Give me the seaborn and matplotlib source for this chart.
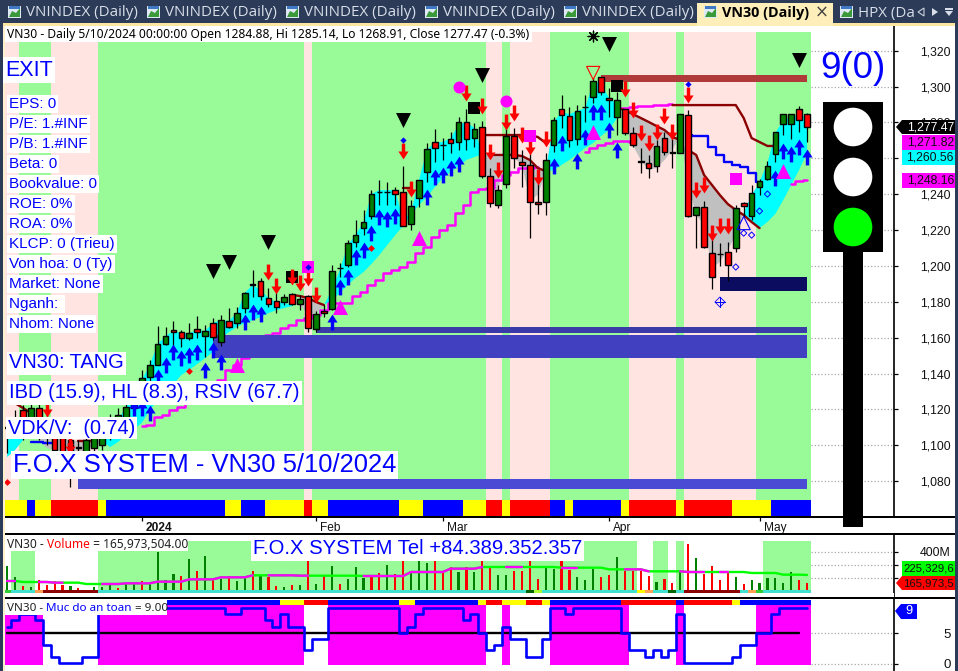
import numpy as np
import pandas as pd
import matplotlib
matplotlib.use("Agg")
import matplotlib.pyplot as plt
from matplotlib.path import Path
from matplotlib.patches import Rectangle, Polygon, Circle
import seaborn as sns

sns.set_style("white")
plt.rcParams["font.family"] = ["Liberation Sans", "DejaVu Sans"]

# candles, one value per session
opens = [1109.6,1109.6,1119.6,1111.3,1120.8,1114.1,1108.5,1105.7,1102.9,1098.5,1096.2,1098.5,1100.1,1105.7,1109.6,1114.1,1120.8,1126.3,1138.0,1144.7,
         1156.4,1164.3,1163.1,1159.8,1164.8,1160.9,1168.2,1157.6,1169.3,1168.2,1176.5,1189.4,1191.6,1182.1,1180.4,1179.9,1184.3,1178.8,1183.2,1164.8,
         1174.9,1176.0,1198.8,1200.5,1213.3,1221.1,1227.8,1241.2,1241.2,1242.3,1241.2,1223.4,1237.9,1252.4,1269.1,1267.4,1270.8,1269.1,1280.3,1271.3,
         1277.5,1250.1,1234.0,1245.7,1272.5,1258.0,1256.3,1235.6,1235.6,1267.4,1287.5,1283.6,1270.8,1288.6,1294.2,1305.4,1293.6,1283.0,1287.5,1274.1,
         1258.0,1257.4,1255.7,1271.3,1263.0,1263.0,1284.2,1228.4,1232.9,1207.2,1206.6,1207.8,1210.0,1235.1,1227.8,1244.0,1248.5,1262.4,1279.1,1279.1,
         1287.5,1284.88]
highs = [1114.1,1119.6,1122.4,1123.0,1124.1,1118.5,1113.0,1109.6,1108.5,1102.9,1107.4,1109.6,1111.8,1117.4,1120.8,1125.2,1130.8,1142.0,1147.5,1166.5,
         1165.9,1169.3,1164.3,1168.2,1172.1,1167.1,1171.0,1172.6,1176.5,1177.1,1185.4,1197.7,1193.3,1187.7,1184.9,1184.3,1184.9,1183.8,1183.8,1174.9,
         1178.2,1200.5,1201.6,1214.5,1225.6,1231.2,1242.3,1247.9,1246.8,1244.0,1255.7,1236.8,1247.9,1268.6,1276.4,1271.3,1274.7,1283.0,1287.5,1279.7,
         1280.8,1254.6,1245.1,1276.9,1276.9,1264.6,1268.6,1253.5,1263.0,1283.0,1295.3,1288.6,1289.7,1295.3,1304.8,1305.4,1299.2,1297.0,1287.5,1277.5,
         1265.8,1261.9,1270.2,1274.7,1271.3,1284.7,1286.9,1232.9,1236.2,1221.7,1212.8,1213.3,1234.0,1235.6,1245.1,1248.5,1258.5,1274.7,1284.7,1284.7,
         1289.2,1285.14]
lows = [1095.7,1105.7,1102.9,1107.4,1102.9,1100.1,1092.9,1086.2,1076.7,1091.8,1092.9,1094.6,1097.3,1102.9,1107.4,1111.3,1118.5,1124.1,1135.3,1144.7,
        1155.9,1154.8,1154.8,1158.7,1159.8,1149.2,1158.7,1155.3,1165.4,1165.4,1173.7,1182.7,1181.0,1177.1,1173.7,1178.2,1178.2,1175.4,1163.1,1163.1,
        1171.5,1175.4,1193.8,1199.4,1210.5,1217.2,1226.2,1234.0,1234.0,1234.0,1222.3,1220.0,1232.9,1246.8,1258.0,1259.1,1263.0,1264.6,1264.6,1266.3,
        1249.0,1232.9,1232.3,1243.4,1254.6,1244.0,1215.6,1229.0,1228.4,1263.5,1276.9,1266.3,1267.4,1280.3,1290.9,1295.3,1283.0,1273.0,1273.0,1266.3,
        1251.8,1249.0,1252.4,1261.9,1254.6,1263.0,1227.3,1210.0,1210.0,1187.1,1199.9,1191.6,1207.8,1227.3,1225.6,1239.5,1247.9,1258.0,1273.0,1270.8,
        1274.7,1268.91]
closes = [1110.2,1115.2,1108.5,1120.8,1108.5,1104.6,1097.3,1092.9,1091.8,1098.8,1102.9,1105.1,1108.5,1114.1,1116.8,1121.3,1126.9,1137.5,1144.7,1156.4,
          1160.9,1163.1,1159.8,1162.6,1163.1,1163.7,1160.4,1169.8,1165.9,1173.7,1184.9,1189.7,1183.2,1178.8,1177.1,1182.7,1178.8,1181.5,1165.4,1173.2,
          1173.7,1197.2,1199.1,1212.8,1217.2,1224.5,1240.1,1241.5,1241.5,1240.1,1222.3,1233.4,1247.9,1265.2,1265.8,1267.7,1268.6,1280.3,1270.8,1276.4,
          1250.1,1235.1,1242.3,1272.5,1260.2,1256.3,1235.6,1234.5,1259.1,1281.4,1284.2,1270.2,1286.4,1288.9,1303.1,1297.0,1292.5,1292.5,1274.1,1267.4,
          1258.3,1254.6,1266.9,1263.5,1263.3,1284.7,1227.8,1232.9,1210.5,1193.8,1206.9,1200.5,1232.3,1233.4,1240.7,1247.4,1255.7,1274.7,1284.7,1284.7,
          1281.4,1277.47]

# two envelope lines, cyan where fast is over slow, grey where under
env_fast = [1108.5,1114.1,1116.8,1107.4,1102.9,1098.5,1097.3,1096.2,1095.7,1096.2,1097.3,1100.1,1101.8,1108.5,1114.1,1121.3,1126.3,1136.4,1144.7,1156.4,
            1160.9,1163.7,1162.6,1162.6,1164.3,1163.7,1168.2,1169.8,1169.3,1173.7,1184.9,1189.4,1186.6,1182.1,1179.9,1179.3,1178.2,1178.2,1172.6,1173.7,
            1178.2,1186.6,1197.7,1211.7,1217.2,1224.5,1240.1,1242.3,1242.3,1242.3,1225.6,1230.1,1247.9,1264.6,1269.1,1269.1,1271.3,1278.6,1280.3,1276.9,
            1261.9,1239.5,1242.3,1262.4,1260.2,1256.3,1236.8,1239.5,1252.4,1280.3,1285.8,1284.7,1286.4,1288.1,1302.6,1301.5,1293.6,1290.3,1278.6,1267.4,
            1259.1,1253.5,1254.6,1259.1,1264.6,1273.0,1245.1,1228.4,1222.8,1198.8,1202.2,1208.9,1217.2,1229.5,1239.5,1246.8,1257.4,1274.1,1281.4,1283.0,
            1284.2,1283.0]
env_slow = [1093.4,1097.3,1102.9,1111.3,1109.6,1107.4,1105.1,1104.0,1102.9,1102.3,1102.3,1102.3,1102.3,1099.0,1101.8,1105.7,1109.0,1112.4,1119.6,1125.2,
            1129.7,1134.1,1139.2,1142.0,1145.3,1148.6,1152.0,1159.8,1163.1,1165.9,1168.2,1169.8,1171.5,1173.7,1175.4,1176.5,1177.6,1182.7,1182.1,1179.9,
            1178.2,1181.0,1184.9,1189.4,1193.3,1196.6,1201.1,1206.1,1211.7,1217.2,1222.3,1228.4,1234.0,1238.4,1244.0,1249.0,1252.4,1255.7,1259.1,1260.7,
            1262.4,1261.9,1261.9,1261.9,1261.9,1261.3,1259.1,1254.6,1252.9,1253.5,1256.3,1259.1,1262.4,1265.8,1268.6,1272.5,1275.8,1282.5,1286.9,1284.7,
            1282.5,1280.3,1278.0,1275.8,1271.9,1268.5,1264.6,1261.9,1250.7,1245.1,1239.5,1234.5,1231.2,1228.4,1224.5,1221.1,1224.5,1229.0,1236.8,1245.1,
            1253.5,1263.0]

# line pieces: first bar, then one price per bar
pink_lines = [
    (17, [1110.7,1111.3,1115.7,1116.8,1119.6,1121.3,1123.5,1126.3,1129.7,1133.0,1136.4,1142.0,1144.7,1148.6,1153.1,1158.7,1161.5,1162.6,1165.4,1167.1,
          1169.8,1171.0,1172.6,1175.4,1179.3,1179.3,1179.3,1183.2,1185.4,1189.4,1192.1,1196.1,1197.7,1199.4,1202.2,1207.2,1210.5,1216.1,1220.0,1222.8,
          1229.5,1234.0,1241.2,1242.9,1243.4,1247.9,1250.7,1252.4,1254.6,1254.6,1255.2]),
    (73, [1263.5,1265.8,1267.4,1268.6,1269.7,1269.7,1269.1]),
    (77, [1288.1,1288.1,1288.6,1289.2,1289.2,1289.7,1289.7,1290.3]),
    (99, [1245.7,1247.4,1247.9]),
]
maroon_lines = [
    (1, [1123.5,1120.8,1118.0]),
    (9, [1102.3,1102.3,1102.3]),
    (36, [1183.8,1183.2,1182.1,1179.9,1178.2]),
    (50, [1243.4,1243.4]),
    (60, [1273.0,1273.0,1273.0,1273.0,1273.0,1273.0,1273.0,1271.9,1268.6]),
    (61, [1261.9,1261.9,1261.9,1261.9,1261.3,1259.1,1254.6,1252.9]),
    (77, [1288.1,1286.9,1284.7,1282.5,1280.3,1278.0,1275.8,1271.9,1270.2]),
    (84, [1289.7,1289.7,1289.7,1289.7,1289.7,1289.7,1289.7,1289.7,1289.7,1282.5,1271.3,1269.1,1266.9,1266.9]),
    (86, [1264.6,1261.9,1250.7,1245.1,1239.5,1234.5,1231.2,1228.4,1224.5,1221.1]),
]
blue_lines = [
    (3, [1101.8,1101.8,1101.2,1101.2]),
    (86, [1273.0,1272.4,1272.4,1266.3,1261.9,1258.0,1256.3,1255.2,1251.8,1246.8]),
]

# background bands and colour stripe, as run lengths of sessions
band_names = ["pink","green","pink","green","pink","green","pink","green","pink","green","pink","green","pink","green"]
band_runs = [2,4,6,26,1,22,2,1,5,10,6,1,9,7]
stripe_names = ["y","b","y","r","y","b","y","b","y","r","y","b","y","b","y","r","y","r","b","y","b","y","r","y","r","y","b"]
stripe_runs = [3,1,2,6,1,15,2,3,5,1,2,9,3,5,3,2,1,5,2,1,6,1,6,1,6,5,5]
top_names = ["b","y","r","b","y","b","y","r","y","r","y","b","r","b","r","y","b"]
top_runs = [35,3,3,9,2,8,1,2,3,2,1,9,7,1,6,1,9]

# horizontal zones: first bar, last bar, low, high
zone_start = [75, 90, 39, 26, 9]
zone_end = [101, 101, 101, 101, 101]
zone_low = [1302.6, 1186.0, 1162.6, 1148.6, 1075.6]
zone_high = [1306.5, 1193.8, 1165.9, 1161.5, 1081.2]
zone_colors = ["#b03a3a", "#0b0b60", "#3a3aa8", "#4040c0", "#4a4ad4"]

# signals
up_bars = [16,17,18,19,20,21,22,23,24,25,26,27,30,31,32,41,42,43,44,45,46,47,48,49,53,54,55,56,57,69,70,72,73,74,75,76,77,97,98,99,100,101]
up_prices = [1120.8,1120.8,1118.0,1138.0,1144.7,1152.0,1148.6,1150.3,1152.0,1142.0,1153.1,1146.4,1168.7,1174.3,1173.2,1168.7,1188.2,1193.8,1205.0,1208.9,1218.4,
             1227.3,1226.2,1227.8,1238.4,1249.6,1250.7,1254.6,1256.8,1255.7,1268.6,1258.5,1271.9,1285.8,1285.8,1275.8,1264.6,1249.0,1264.1,1262.4,1266.3,1260.7]
down_bars = [5,8,33,34,36,37,38,39,50,51,58,60,61,62,63,64,65,66,67,68,78,79,80,81,82,83,84,86,87,88,89,90,91]
down_prices = [1120.2,1099.6,1196.6,1188.8,1193.8,1190.5,1193.3,1183.8,1264.1,1242.9,1296.4,1289.2,1263.5,1253.5,1280.3,1285.3,1273.0,1266.3,1249.6,1270.8,
               1298.7,1286.9,1274.1,1268.6,1274.7,1283.6,1274.7,1295.3,1242.3,1245.1,1218.3,1222.2,1222.2]
black_tri_bars = [26,28,33,50,60,76,100]
black_tri_prices = [1197.2,1202.2,1213.3,1281.4,1306.5,1323.8,1314.8]
black_sq_bars = [36,59,77]
black_sq_prices = [1193.8,1288.1,1300.3]
mag_sq_bars = [38,66,92]
mag_sq_prices = [1199.4,1272.5,1248.5]
mag_dot_bars = [57,63]
mag_dot_prices = [1299.8,1292.0]
mag_tri_bars = [29,42,52,74,98]
mag_tri_prices = [1144.7,1177.1,1215.6,1274.7,1252.9]
blue_dia_bars = [38,50,86]
blue_dia_prices = [1199.4,1270.2,1301.4]
red_dia_bars = [0,8,23,46]
red_dia_prices = [1079.5,1100.7,1141.4,1210.0]
open_dia_bars = [92,93,94,95,96]
open_dia_prices = [1199.4,1218.3,1217.2,1230.6,1240.1]

# volume panel (millions)
volumes = [292.5,212.5,142.5,132.5,187.5,150,180,150,142.5,125,112.5,132.5,132.5,150,125,157.5,172.5,180,172.5,400,
           187.5,232.5,217.5,342.5,255,367.5,195,195,217.5,180,217.5,255,217.5,210,142.5,135,150,150,345,157.5,
           217.5,292.5,157.5,195,285,202.5,217.5,240,300,232.5,345,247.5,330,312.5,337.5,257.5,282.5,247.5,282.5,247.5,
           345,282.5,225,225,255,255,345,195,292.5,270,345,262.5,210,187.5,270,210,225,360,255,255,
           255,217.5,172.5,195,165,247.5,457.5,352.5,232.5,292.5,187.5,247.5,210,157.5,187.5,165,202.5,202.5,165,247.5,
           187.5,166]
vol_up = [1,1,0,1,0,0,0,0,1,0,1,1,1,1,0,1,1,0,1,1,
          1,1,0,1,0,1,0,1,0,1,1,0,1,0,0,1,0,1,0,1,
          0,1,0,1,1,1,0,0,1,0,0,1,1,1,0,0,0,1,0,1,
          0,0,1,1,0,0,0,0,1,1,0,0,1,1,1,0,0,1,0,0,
          0,0,1,0,0,1,0,1,0,0,0,0,1,0,1,1,1,1,1,1,
          0,0]
vol_ma = [180,180,172.5,172.5,172.5,172.5,167.5,167.5,167.5,167.5,157.5,157.5,157.5,157.5,157.5,162.5,162.5,162.5,162.5,175,
          175,175,175,192.5,192.5,192.5,192.5,207.5,207.5,207.5,207.5,222.5,222.5,222.5,222.5,222.5,222.5,220,220,220,
          220,220,220,220,220,217.5,217.5,217.5,217.5,217.5,217.5,247.5,247.5,247.5,247.5,247.5,272.5,272.5,272.5,272.5,
          285,285,285,285,285,285,285,285,285,285,280,280,280,280,280,280,267.5,267.5,267.5,267.5,
          267.5,252.5,252.5,252.5,252.5,252.5,247.5,247.5,247.5,247.5,247.5,247.5,247.5,247.5,240,240,240,240,227.5,227.5,
          227.5,225.3]
vol_ma_pink = [(0,1),(4,7),(12,31),(33,38),(45,60),(63,65),(70,72),(78,81),(85,88),(90,91)]
vol_band_names = ["w","green","w","green","w","green","w","green","w","green"]
vol_band_runs = [1,3,8,68,2,2,1,1,10,6]
vol_strip_names = ["lime","turq","orange","dark","turq","dgreen","gy","turq","y","orange","turq","dgreen","turq","dark","turq","orange","lime","turq"]
vol_strip_runs = [1,3,1,7,54,1,1,12,1,1,2,1,1,7,1,1,1,6]

# safety level panel
safety = [6,7.1,8,8,7.1,3.1,1.1,0.1,0.1,0.1,1.1,1.1,9,9,9,9,9,9,9,9,9,9,9,9,9,9,9,9,8.1,8.1,9,9,9,7.1,6,8.1,6,6,2.2,4.1,4.1,
          9,9,9,9,9,9,9,9,9,5,6,8.1,9,9,9,9,9,7.1,8.1,5,2.2,3.1,6,4.1,4.1,1.1,1.1,4.1,9,9,8.1,9,9,9,9,9,9,5,2.2,2.2,1.1,2.2,1.1,2.2,8.1,
          0.1,0.1,0.1,0.1,0.1,0.1,1.1,3.1,3.1,5,5,8.1,9,9,9,9]

price_ticks = list(range(1080, 1321, 20))
month_bars = [17, 39, 55, 76, 95]
month_labels = ["2024", "Feb", "Mar", "Apr", "May"]
tab_left = [26, 165, 304, 443, 582]

bars = np.arange(len(closes))
W, H = 958, 671
X_LIM = (-0.268, 111.98)
palette = {"pink": "#ffe4e1", "green": "#98fb98", "w": "white", "y": "#ffff00", "b": "#0000ff", "r": "#ff0000",
           "lime": "#32cd32", "turq": "#40e0d0", "orange": "#ffa054", "dark": "#8b0000", "dgreen": "#006400", "gy": "#adff2f"}


def expand(names, runs):
    return [palette[n] for n in np.repeat(names, runs)]


def panel(left, top, right, bottom):
    return fig.add_axes([left / W, 1 - bottom / H, (right - left) / W, (bottom - top) / H])


def arrow_marker(sign):
    pts = [(0, 7), (4.5, 0), (1.5, 0), (1.5, -7), (-1.5, -7), (-1.5, 0), (-4.5, 0), (0, 7)]
    return Path([(x, sign * y) for x, y in pts], closed=True)


def marks(ax, xs, ys, marker, size, color, **kw):
    sns.scatterplot(x=xs, y=ys, marker=marker, s=size, color=color, ax=ax, legend=False, **kw)


def dotted_ticks(ax, ticks):
    ax.hlines(ticks, 101.5, X_LIM[1], colors="#a8a8a8", linestyles=":", linewidth=0.9, zorder=1)


fig = plt.figure(figsize=(W / 100, H / 100), dpi=100, facecolor="white")

# price panel
ax = panel(5, 26, 894, 517)
ax.bar(bars, 1330.5 - 1069.4, bottom=1069.4, width=1, color=expand(band_names, band_runs), linewidth=0, zorder=1)
ax.bar(bars, 1069.4 - 1060.5, bottom=1060.5, width=1, color=expand(stripe_names, stripe_runs), linewidth=0, zorder=2)
fast = np.array(env_fast)
slow = np.array(env_slow)
ax.fill_between(bars, fast, slow, where=fast >= slow, interpolate=True, color="#00ffff", linewidth=0, zorder=2)
ax.fill_between(bars, fast, slow, where=fast <= slow, interpolate=True, color="#c0c0c0", linewidth=0, zorder=2)
for start, values in pink_lines:
    sns.lineplot(x=np.arange(start, start + len(values)), y=values, color="#ff00ff", linewidth=1.8, drawstyle="steps-mid",
                 errorbar=None, ax=ax, zorder=3)
for x0, x1, lo, hi, c in zip(zone_start, zone_end, zone_low, zone_high, zone_colors):
    ax.barh((lo + hi) / 2, x1 - x0, height=hi - lo, left=x0, color=c, linewidth=0, zorder=4)
for start, values in maroon_lines:
    sns.lineplot(x=np.arange(start, start + len(values)), y=values, color="#8b0000", linewidth=1.7, errorbar=None, ax=ax, zorder=5)
for start, values in blue_lines:
    sns.lineplot(x=np.arange(start, start + len(values)), y=values, color="#0000ff", linewidth=1.7, drawstyle="steps-mid",
                 errorbar=None, ax=ax, zorder=5)

candle_df = pd.DataFrame({"bar": bars, "open": opens, "high": highs, "low": lows, "close": closes})
candle_df["up"] = candle_df["close"] >= candle_df["open"]
ax.vlines(candle_df["bar"], candle_df["low"], candle_df["high"], color="black", linewidth=0.9, zorder=6)
ax.bar(candle_df["bar"], (candle_df["close"] - candle_df["open"]).abs(), bottom=candle_df[["open", "close"]].min(axis=1),
       width=0.72, color=np.where(candle_df["up"], "#008000", "#ff0000"), edgecolor="black", linewidth=1.0, zorder=6)

marks(ax, up_bars, up_prices, arrow_marker(1), 130, "#0000ff", linewidth=0, zorder=7)
marks(ax, down_bars, down_prices, arrow_marker(-1), 130, "#ff0000", linewidth=0, zorder=7)
marks(ax, black_tri_bars, black_tri_prices, "v", 116, "black", linewidth=0, zorder=7)
marks(ax, black_sq_bars, black_sq_prices, "s", 75, "black", linewidth=0, zorder=6.5)
marks(ax, mag_sq_bars, mag_sq_prices, "s", 75, "#ff00ff", linewidth=0, zorder=7)
marks(ax, mag_dot_bars, mag_dot_prices, "o", 75, "#ff00ff", linewidth=0, zorder=7)
marks(ax, mag_tri_bars, mag_tri_prices, "^", 116, "#ff00ff", linewidth=0, zorder=7)
marks(ax, blue_dia_bars, blue_dia_prices, "D", 10, "#0000ff", linewidth=0, zorder=8)
marks(ax, red_dia_bars, red_dia_prices, "D", 12, "#ff0000", linewidth=0, zorder=7)
ax.scatter(open_dia_bars, open_dia_prices, marker="D", s=10, facecolors="none", edgecolors="#0000ff", linewidths=0.7, zorder=7)
ax.scatter([74], [1307.6], marker="v", s=90, facecolors="none", edgecolors="#ff0000", linewidths=0.8, zorder=7)
ax.scatter([93], [1223.9], marker="^", s=90, facecolors="none", edgecolors="#0000ff", linewidths=0.8, zorder=7)
ax.scatter([74], [1328.2], marker=(8, 2, 0), s=60, color="black", linewidths=0.9, zorder=7)
ax.scatter([90], [1179.9], marker="D", s=26, facecolors="none", edgecolors="#0000ff", linewidths=0.6, zorder=7)
ax.scatter([90], [1179.9], marker=(4, 2, 0), s=60, color="#0000ff", linewidths=0.6, zorder=7)

dotted_ticks(ax, price_ticks)
ax.set_xlim(*X_LIM)
ax.set_ylim(1060.0, 1333.8)
ax.set_xlabel("")
ax.set_ylabel("")
ax.yaxis.tick_right()
ax.set_yticks(price_ticks)
ax.set_yticklabels([f"{t:,}" for t in price_ticks], ha="right", fontsize=8.8, color="#111111")
ax.tick_params(axis="y", length=3, width=0.9, pad=38, right=True, color="black")
ax.set_xticks(month_bars)
ax.set_xticklabels(month_labels, ha="left", fontsize=8.6, color="#111111")
ax.get_xticklabels()[0].set_fontweight("bold")
ax.tick_params(axis="x", length=3, width=0.9, direction="out", pad=0.5, bottom=True, color="black")
for lab in ax.get_xticklabels():
    lab.set_transform(lab.get_transform() + matplotlib.transforms.ScaledTranslation(4 / 100, 0, fig.dpi_scale_trans))

# volume panel
vax = panel(5, 534, 894, 598)
vax.bar(bars, 480 - 112.5, bottom=112.5, width=1, color=expand(vol_band_names, vol_band_runs), linewidth=0, zorder=1)
vol_df = pd.DataFrame({"bar": bars, "volume": volumes, "side": ["up" if u else "down" for u in vol_up]})
sns.barplot(data=vol_df, x="bar", y="volume", hue="side", palette={"up": "#008000", "down": "#ff0000"}, native_scale=True,
            width=0.27, dodge=False, legend=False, saturation=1, errorbar=None, linewidth=0, ax=vax, zorder=3)
vax.bar(bars, 112.5 - 90, bottom=90, width=1, color=expand(vol_strip_names, vol_strip_runs), linewidth=0, zorder=4)
vax.axhspan(52.5, 90, color="white", linewidth=0, zorder=4)
sns.lineplot(x=bars, y=vol_ma, color="#00ff00", linewidth=1.7, errorbar=None, ax=vax, zorder=5)
for a, b in vol_ma_pink:
    sns.lineplot(x=bars[a:b + 1], y=vol_ma[a:b + 1], color="#ff00ff", linewidth=1.7, errorbar=None, ax=vax, zorder=5)
dotted_ticks(vax, [200, 300, 400])
vax.set_xlim(*X_LIM)
vax.set_ylim(52.5, 532.5)
vax.set_xlabel("")
vax.set_ylabel("")
vax.set_xticks(month_bars)
vax.set_xticklabels([])
vax.tick_params(axis="x", length=0)
vax.yaxis.tick_right()
vax.set_yticks([200, 300, 400])
vax.set_yticklabels(["", "", "400M"], ha="right", fontsize=8.8, color="#111111")
vax.tick_params(axis="y", length=3, width=0.9, pad=38, right=True, color="black")

# safety panel
sax = panel(5, 598, 894, 671)
safety_arr = np.array(safety)
sax.bar(bars, np.where(safety_arr >= 5, 9.66, 0), bottom=-0.16, width=1, color="#ff00ff", linewidth=0, zorder=1)
sax.bar(bars, 0.82, bottom=9.5, width=1, color=expand(top_names, top_runs), linewidth=0, zorder=2)
sns.lineplot(x=bars[:-1], y=[5] * (len(bars) - 1), color="black", linewidth=1.7, errorbar=None, ax=sax, zorder=3)
sns.lineplot(x=bars, y=safety, color="#0000ff", linewidth=1.9, drawstyle="steps-mid", errorbar=None, ax=sax, zorder=4)
dotted_ticks(sax, [0, 5])
sax.set_xlim(*X_LIM)
sax.set_ylim(-1.13, 10.65)
sax.set_xlabel("")
sax.set_ylabel("")
sax.set_xticks(month_bars)
sax.set_xticklabels([])
sax.tick_params(axis="x", length=0)
sax.yaxis.tick_right()
sax.set_yticks([0, 5])
sax.set_yticklabels(["0", "5"], ha="right", fontsize=9.6, color="#111111")
sax.tick_params(axis="y", length=3, width=0.9, pad=38, right=True, color="black")

for a in (ax, vax, sax):
    a.patch.set_alpha(0)
    for side in ("left", "top", "bottom"):
        a.spines[side].set_visible(False)
    a.spines["right"].set_linewidth(1.2)
    a.spines["right"].set_color("black")

# overlay in pixels: window chrome, traffic light, captions
ov = fig.add_axes([0, 0, 1, 1], zorder=10)
ov.set_xlim(0, W)
ov.set_ylim(H, 0)
ov.axis("off")
ov.patch.set_alpha(0)


def rect(x0, y0, x1, y1, color):
    ov.add_patch(Rectangle((x0, y0), x1 - x0, y1 - y0, facecolor=color, edgecolor="none", linewidth=0))


def label(x, y, s, size, color="#0000ff", boxed=True, **kw):
    box = dict(facecolor="white", edgecolor="none", pad=1.5) if boxed else None
    return ov.text(x, y + 1, s, fontsize=size, color=color, va="center", ha=kw.pop("ha", "left"), bbox=box, **kw)


def tab_icon(x):
    rect(x, 6, x + 13, 18, "#dfe9f5")
    ov.add_patch(Polygon([(x + 1, 17), (x + 4, 11), (x + 8, 13), (x + 12, 8), (x + 12, 17)], facecolor="#3a9a3a", edgecolor="none"))
    rect(x + 1, 6, x + 12, 9, "#3f78c4")


rect(0, 0, W, 23, "#2c3b57")
rect(0, 23, 3, H, "#2c3b57")
rect(955.5, 23, W, H, "#2c3b57")
rect(3, 23, 955.5, 26, "#fde6a2")
rect(3, 26, 5, H, "#fdf0cc")
rect(697, 3, 833, 26, "#fdeeba")
for x in tab_left:
    tab_icon(x - 18)
    ov.text(x, 13, "VNINDEX (Daily)", fontsize=10.9, color="#d7deea", family="Open Sans", va="center")
tab_icon(704)
ov.text(722, 13.5, "VN30 (Daily)", fontsize=10.4, fontweight="bold", color="black", family="Open Sans", va="center")
ov.text(822, 13, "×", fontsize=12, color="#444444", va="center", ha="center", family="DejaVu Sans")
tab_icon(840)
ov.text(858, 13, "HPX (Da", fontsize=10.9, color="#d7deea", family="Open Sans", va="center")
ov.add_patch(Polygon([(924, 8), (924, 16), (918, 12)], facecolor="none", edgecolor="#c8d0dc", linewidth=0.8))
ov.add_patch(Polygon([(932, 8), (932, 16), (938, 12)], facecolor="#d7deea", edgecolor="none"))
ov.add_patch(Polygon([(945, 11), (953, 11), (949, 16)], facecolor="#d7deea", edgecolor="none"))
rect(945, 8, 953, 9.5, "#d7deea")

# panel separators run on under the scale
for y in (517, 534, 598):
    rect(5, y - 0.6, 955.5, y + 0.6, "black")

rect(5, 26, 532, 42, "white")
ov.text(7, 34.5, "VN30 - Daily 5/10/2024 00:00:00 Open 1284.88, Hi 1285.14, Lo 1268.91, Close 1277.47 (-0.3%)",
        fontsize=8.68, color="black", family="Noto Sans", va="center")

label(5, 69, "EXIT", 15.5)
info = ["EPS: 0", "P/E: 1.#INF", "P/B: 1.#INF", "Beta: 0", "Bookvalue: 0", "ROE: 0%", "ROA: 0%", "KLCP: 0 (Trieu)",
        "Von hoa: 0 (Ty)", "Market: None", "Nganh: ", "Nhom: None"]
for k, line in enumerate(info):
    label(9, 103 + 20 * k, line, 11)
label(9, 362, "VN30: TANG", 14.4)
label(9, 392, "IBD (15.9), HL (8.3), RSIV (67.7)", 14.5)
label(8, 427, "VDK/V:  (0.74)", 14.3)
label(13, 464, "F.O.X SYSTEM - VN30 5/10/2024", 18.4)
label(820, 67, "9(0)", 26.5, boxed=False)
label(253, 548, "F.O.X SYSTEM Tel +84.389.352.357", 14.6)

# traffic light
rect(823, 102, 883, 252, "black")
rect(843, 252, 863, 527, "black")
for cy, c in zip([127, 177, 227], ["white", "white", "#00ff00"]):
    ov.add_patch(Circle((853, cy), 19.3, facecolor=c, edgecolor="none"))

# value flags on the scale
ov.add_patch(Polygon([(896, 127), (902, 120), (955, 120), (955, 134), (902, 134)], facecolor="black", edgecolor="none"))
ov.text(954, 127, "1,277.47", fontsize=8.8, color="white", ha="right", va="center")
for (y0, y1, c, s) in [(135, 150, "#ff00ff", "1,271.82"), (150, 165, "#00ffff", "1,260.56"), (173, 188, "#ff00ff", "1,248.16")]:
    rect(902, y0, 955, y1, c)
    ov.text(954, (y0 + y1) / 2, s, fontsize=8.8, color="#111111", ha="right", va="center")
rect(902, 561, 955, 576, "#00ff00")
ov.text(903, 568.5, "225,329,6", fontsize=8.2, color="#111111", va="center")
ov.add_patch(Polygon([(896, 583), (902, 576), (955, 576), (955, 590), (902, 590)], facecolor="#ff0000", edgecolor="none"))
ov.text(903, 583, "165,973,5", fontsize=8.2, color="#111111", va="center")
ov.add_patch(Polygon([(895, 611), (901, 604), (917, 604), (917, 619), (901, 619)], facecolor="#0000ff", edgecolor="none"))
ov.text(909, 611.5, "9", fontsize=9.2, color="white", ha="center", va="center")

# panel captions in two or three colours, laid out one after the other
renderer = fig.canvas.get_renderer()


def chained(x, y, parts, x1, y0, y1, size):
    rect(5, y0, x1, y1, "white")
    for s, c in parts:
        t = ov.text(x, y, s, fontsize=size, color=c, family="Noto Sans", va="center")
        x += t.get_window_extent(renderer).width


chained(7, 544.5, [("VN30 - ", "#222222"), ("Volume", "#ff0000"), ("\u00a0= 165,973,504.00", "#222222")], 188, 539, 551, 8.6)
chained(7, 608.5, [("VN30 - ", "#222222"), ("Muc do an toan", "#0000ff"), ("\u00a0= 9.00", "#222222")], 167, 599, 615, 8.4)

fig.savefig("out.png", dpi=100)
